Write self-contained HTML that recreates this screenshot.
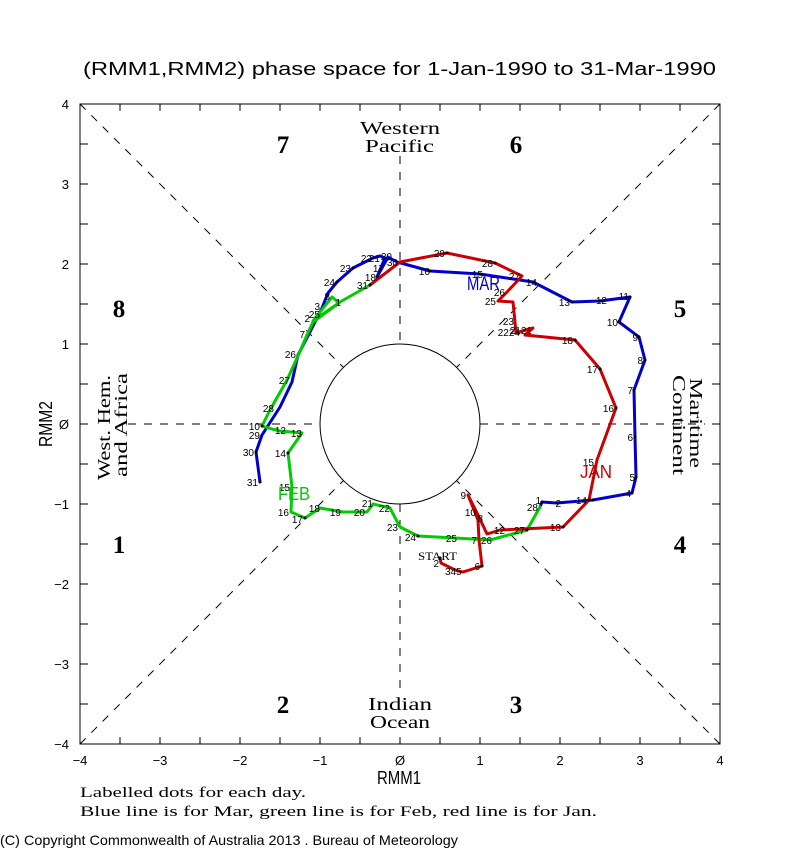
<!DOCTYPE html>
<html><head><meta charset="utf-8"><style>
html,body{margin:0;padding:0;background:#fff;}
svg{display:block;}
.ax{font-family:"Liberation Sans",sans-serif;font-size:13px;fill:#000;}
.dl{font-family:"Liberation Sans",sans-serif;font-size:10px;fill:#000;}
.ph{font-family:"Liberation Serif",serif;font-size:25px;font-weight:bold;fill:#000;text-anchor:middle;}
.rg{font-family:"Liberation Serif",serif;font-size:18px;fill:#000;}
</style></head><body>
<svg width="800" height="850" viewBox="0 0 800 850" xmlns="http://www.w3.org/2000/svg">
<rect x="0" y="0" width="800" height="850" fill="#fff"/>
<text x="83" y="75" font-family="Liberation Sans, sans-serif" font-size="18" textLength="633" lengthAdjust="spacingAndGlyphs">(RMM1,RMM2) phase space for  1-Jan-1990 to 31-Mar-1990</text>

<!-- dashed guide lines -->
<g stroke="#000" stroke-width="1" fill="none">
<line x1="80" y1="104" x2="343.4" y2="367.4" stroke-dasharray="8 8"/>
<line x1="720" y1="104" x2="456.6" y2="367.4" stroke-dasharray="8 8"/>
<line x1="80" y1="744" x2="343.4" y2="480.6" stroke-dasharray="8 8"/>
<line x1="720" y1="744" x2="456.6" y2="480.6" stroke-dasharray="8 8"/>
<line x1="400" y1="156" x2="400" y2="344" stroke-dasharray="8 8"/>
<line x1="400" y1="504" x2="400" y2="694" stroke-dasharray="8 8"/>
<line x1="128" y1="424" x2="320" y2="424" stroke-dasharray="8 8"/>
<line x1="480" y1="424" x2="705" y2="424" stroke-dasharray="8 8"/>
<circle cx="400" cy="424" r="80"/>
<rect x="80" y="104" width="640" height="640"/>
</g>

<!-- ticks -->
<g stroke="#000" stroke-width="1">
<path d="M120 104v7M160 104v7M200 104v7M240 104v7M280 104v7M320 104v7M360 104v7M400 104v7M440 104v7M480 104v7M520 104v7M560 104v7M600 104v7M640 104v7M680 104v7
M120 744v-7M160 744v-7M200 744v-7M240 744v-7M280 744v-7M320 744v-7M360 744v-7M400 744v-7M440 744v-7M480 744v-7M520 744v-7M560 744v-7M600 744v-7M640 744v-7M680 744v-7
M80 144h8M80 184h8M80 224h8M80 264h8M80 304h8M80 344h8M80 384h8M80 424h8M80 464h8M80 504h8M80 544h8M80 584h8M80 624h8M80 664h8M80 704h8
M720 144h-8M720 184h-8M720 224h-8M720 264h-8M720 304h-8M720 344h-8M720 384h-8M720 424h-8M720 464h-8M720 504h-8M720 544h-8M720 584h-8M720 624h-8M720 664h-8M720 704h-8"/>
</g>

<!-- axis labels -->
<g class="ax" text-anchor="end">
<text x="69" y="109">4</text><text x="69" y="189">3</text><text x="69" y="269">2</text><text x="69" y="349">1</text>
<text x="69" y="429">Ø</text><text x="69" y="509">−1</text><text x="69" y="589">−2</text><text x="69" y="669">−3</text><text x="69" y="749">−4</text>
</g>
<g class="ax" text-anchor="middle">
<text x="80" y="765">−4</text><text x="160" y="765">−3</text><text x="240" y="765">−2</text><text x="320" y="765">−1</text>
<text x="400" y="765">Ø</text><text x="480" y="765">1</text><text x="560" y="765">2</text><text x="640" y="765">3</text><text x="720" y="765">4</text>
</g>
<text x="377" y="784" font-family="Liberation Sans, sans-serif" font-size="18" textLength="44" lengthAdjust="spacingAndGlyphs">RMM1</text>
<text transform="translate(52,447) rotate(-90)" font-family="Liberation Sans, sans-serif" font-size="18" textLength="46" lengthAdjust="spacingAndGlyphs">RMM2</text>

<!-- phase numbers -->
<text class="ph" x="283" y="153">7</text>
<text class="ph" x="516" y="153">6</text>
<text class="ph" x="119" y="317">8</text>
<text class="ph" x="680" y="317">5</text>
<text class="ph" x="119" y="553">1</text>
<text class="ph" x="680" y="553">4</text>
<text class="ph" x="283" y="713">2</text>
<text class="ph" x="516" y="713">3</text>

<!-- region names -->
<text class="rg" x="360" y="134" textLength="80" lengthAdjust="spacingAndGlyphs">Western</text>
<text class="rg" x="365" y="152" textLength="69" lengthAdjust="spacingAndGlyphs">Pacific</text>
<text class="rg" x="368" y="710" textLength="64" lengthAdjust="spacingAndGlyphs">Indian</text>
<text class="rg" x="370" y="728" textLength="60" lengthAdjust="spacingAndGlyphs">Ocean</text>
<text class="rg" transform="translate(110,480) rotate(-90)" textLength="105" lengthAdjust="spacingAndGlyphs">West. Hem.</text>
<text class="rg" transform="translate(127,477) rotate(-90)" textLength="104" lengthAdjust="spacingAndGlyphs">and Africa</text>
<text class="rg" transform="translate(690,378) rotate(90)" textLength="90" lengthAdjust="spacingAndGlyphs">Maritime</text>
<text class="rg" transform="translate(673,375) rotate(90)" textLength="100" lengthAdjust="spacingAndGlyphs">Continent</text>

<!-- series lines -->
<g fill="none" stroke-width="3" stroke-linejoin="round" stroke-linecap="round">
<polyline stroke="#0000cc" points="540,507 542,502 557,503 593,500 632,493 636,477 635,437 634,390 645,360 639,337 619,322 630,297 600,301 572,302 533,282 480,274 430,271 397,262 388,257 377,277 385,258 380,256 373,258 353,268 337,282 328,293 322,308 315,322 310,332 298,355 292,382 280,407 262,435 256,452 260,482"/>
<polyline stroke="#00cc00" points="370,285 340,302 313,321 332,297 339,303 313,322 307,335 298,356 287,380 270,410 262,426 272,429 280,431 302,433 288,453 292,487 291,512 305,518 320,508 343,512 367,512 373,504 390,508 400,527 418,536 455,538 490,540 527,530 540,507"/>
<polyline stroke="#cc0000" points="440,558 441,563 453,569 458,571 463,572 482,566 479,540 478,520 468,495 478,515 487,534 500,530 563,527 589,500 597,460 616,408 600,369 575,340 525,335 533,328 522,331 516,333 515,322 513,302 498,301 507,292 522,276 495,263 447,253 400,262 370,285"/>
</g>

<!-- dots -->
<g fill="#000">
<circle cx="542" cy="502" r="1.5"/><circle cx="557" cy="503" r="1.5"/><circle cx="593" cy="500" r="1.5"/><circle cx="632" cy="493" r="1.5"/><circle cx="636" cy="477" r="1.5"/><circle cx="635" cy="437" r="1.5"/><circle cx="634" cy="390" r="1.5"/><circle cx="645" cy="360" r="1.5"/><circle cx="639" cy="337" r="1.5"/><circle cx="619" cy="322" r="1.5"/><circle cx="630" cy="297" r="1.5"/><circle cx="600" cy="301" r="1.5"/><circle cx="572" cy="302" r="1.5"/><circle cx="533" cy="282" r="1.5"/><circle cx="480" cy="274" r="1.5"/><circle cx="430" cy="271" r="1.5"/><circle cx="377" cy="277" r="1.5"/><circle cx="353" cy="268" r="1.5"/><circle cx="337" cy="282" r="1.5"/><circle cx="260" cy="482" r="1.5"/><circle cx="256" cy="452" r="1.5"/>
<circle cx="440" cy="558" r="1.5"/><circle cx="482" cy="566" r="1.5"/><circle cx="563" cy="527" r="1.5"/><circle cx="589" cy="500" r="1.5"/><circle cx="616" cy="408" r="1.5"/><circle cx="600" cy="369" r="1.5"/><circle cx="575" cy="340" r="1.5"/><circle cx="370" cy="285" r="1.5"/><circle cx="447" cy="253" r="1.5"/><circle cx="495" cy="263" r="1.5"/>
<circle cx="262" cy="426" r="1.5"/><circle cx="288" cy="453" r="1.5"/><circle cx="305" cy="518" r="1.5"/><circle cx="418" cy="536" r="1.5"/><circle cx="527" cy="530" r="1.5"/>
</g>

<!-- day labels -->
<g class="dl" text-anchor="end">
<!-- Mar -->
<text x="541" y="504">1</text><text x="561" y="507">2</text><text x="631" y="497">4</text><text x="635" y="481">5</text><text x="633" y="441">6</text><text x="633" y="394">7</text><text x="643" y="364">8</text><text x="638" y="341">9</text><text x="618" y="326">10</text><text x="629" y="300">11</text><text x="607" y="304">12</text><text x="570" y="306">13</text><text x="537" y="286">14</text><text x="483" y="278">15</text><text x="430" y="275">16</text><text x="384" y="272">17</text><text x="376" y="281">18</text><text x="392" y="260">20</text><text x="380" y="262">21</text><text x="372" y="262">22</text><text x="351" y="272">23</text><text x="335" y="286">24</text><text x="320" y="318">25</text><text x="296" y="358">26</text><text x="290" y="384">27</text><text x="274" y="412">28</text><text x="260" y="439">29</text><text x="254" y="456">30</text><text x="258" y="486">31</text>
<!-- Feb -->
<text x="341" y="306">1</text><text x="330" y="300">8</text><text x="320" y="310">3</text><text x="310" y="322">2</text><text x="305" y="338">7</text><text x="260" y="430">10</text><text x="286" y="434">12</text><text x="302" y="437">13</text><text x="286" y="457">14</text><text x="290" y="491">15</text><text x="289" y="516">16</text><text x="303" y="523">17</text><text x="320" y="512">18</text><text x="341" y="516">19</text><text x="365" y="516">20</text><text x="373" y="507">21</text><text x="390" y="512">22</text><text x="398" y="531">23</text><text x="416" y="541">24</text><text x="457" y="542">25</text><text x="492" y="544">26</text><text x="525" y="534">27</text><text x="538" y="511">28</text>
<!-- Jan -->
<text x="439" y="567">2</text><text x="480" y="570">6</text><text x="477" y="544">7</text><text x="483" y="522">8</text><text x="466" y="499">9</text><text x="476" y="516">10</text><text x="505" y="534">12</text><text x="561" y="531">13</text><text x="587" y="504">14</text><text x="594" y="466">15</text><text x="614" y="412">16</text><text x="598" y="373">17</text><text x="573" y="344">18</text><text x="532" y="334">2121</text><text x="514" y="325">23</text><text x="520" y="336">2224</text><text x="496" y="305">25</text><text x="505" y="296">26</text><text x="520" y="280">27</text><text x="493" y="267">28</text><text x="445" y="257">29</text><text x="398" y="266">30</text><text x="368" y="289">31</text>
</g>
<text class="dl" x="445" y="575">345</text>
<text x="418" y="560" font-family="Liberation Serif, serif" font-size="12" textLength="39" lengthAdjust="spacingAndGlyphs">START</text>

<!-- month labels -->
<text x="467" y="290" font-family="Liberation Sans, sans-serif" font-size="19" fill="#0000cc" textLength="33" lengthAdjust="spacingAndGlyphs">MAR</text>
<text x="580" y="478" font-family="Liberation Sans, sans-serif" font-size="18" fill="#cc0000" textLength="32" lengthAdjust="spacingAndGlyphs">JAN</text>
<text x="278" y="500" font-family="Liberation Sans, sans-serif" font-size="18" fill="#00cc00" textLength="32" lengthAdjust="spacingAndGlyphs">FEB</text>

<!-- notes -->
<text x="80" y="797" font-family="Liberation Serif, serif" font-size="15" textLength="226" lengthAdjust="spacingAndGlyphs">Labelled dots for each day.</text>
<text x="80" y="816" font-family="Liberation Serif, serif" font-size="15" textLength="517" lengthAdjust="spacingAndGlyphs">Blue line is for Mar, green line is for Feb, red line is for Jan.</text>
<text x="0" y="845" font-family="Liberation Sans, sans-serif" font-size="14" textLength="458" lengthAdjust="spacingAndGlyphs">(C) Copyright Commonwealth of Australia 2013 . Bureau of Meteorology</text>
</svg>
</body></html>
